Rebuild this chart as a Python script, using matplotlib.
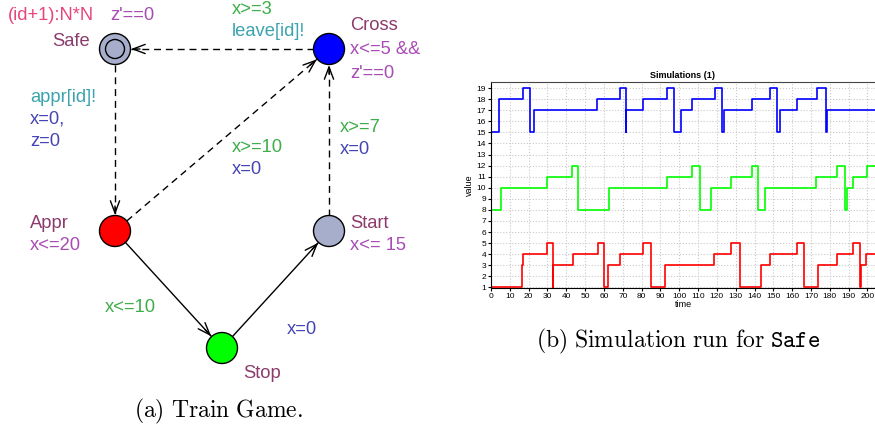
import numpy as np
import matplotlib.pyplot as plt
from matplotlib.patches import Circle, FancyArrowPatch

plt.rcParams['font.family'] = ['Liberation Sans', 'DejaVu Sans']
plt.rcParams['mathtext.fontset'] = 'cm'

## Simulation run (change times, new values)
blue_t = [0, 4.5, 17, 20.5, 23, 56.5, 68.5, 71.5, 71.8, 80.5, 93.5, 97, 101, 107,
          119, 122.5, 124, 138.5, 148, 152, 153.5, 162.5, 173, 178, 178.3]
blue_v = [15, 18, 19, 15, 17, 18, 19, 15, 17, 18, 19, 15, 17, 18,
          19, 15, 17, 18, 19, 15, 17, 18, 19, 15, 17]
green_t = [0, 5.3, 29.5, 43, 46.3, 62.8, 93.7, 107, 111.2, 117, 127.7, 138.8,
           142, 145.4, 172.8, 183.9, 188.2, 189.2, 192.2, 199.8]
green_v = [8, 10, 11, 12, 8, 10, 11, 12, 8, 10, 11, 12,
           8, 10, 11, 12, 8, 10, 11, 12]
red_t = [0, 16.3, 17, 29.5, 32.7, 33.2, 43.3, 56.6, 59.9, 62.4, 68.6, 80.5, 85.2,
         92.5, 118.5, 127.7, 132.3, 143.6, 148, 162.5, 166.2, 173.5, 183.9, 192.2,
         195.8, 196.6, 199.3]
red_v = [1, 3, 4, 5, 1, 3, 4, 5, 1, 3, 4, 5, 1,
         3, 4, 5, 1, 3, 4, 5, 1, 3, 4, 5,
         1, 3, 4]
t_end = 204
x_ticks = list(range(0, 201, 10))
y_ticks = list(range(1, 20))

## Train automaton
node_names = ['Safe', 'Cross', 'Appr', 'Start', 'Stop']
node_colors = ['#a7aecb', '#0000ff', '#ff0000', '#a7aecb', '#00ff00']
# (source, target, dashed)
edges = [('Cross', 'Safe', True), ('Safe', 'Appr', True), ('Appr', 'Cross', True),
         ('Start', 'Cross', True), ('Appr', 'Stop', False), ('Stop', 'Start', False)]

name_col = '#8c3b6c'
inv_col = '#a84cb4'
guard_col = '#3dae48'
sync_col = '#3ba3ae'
assign_col = '#4545b5'

# label text, colour, left x, centre y (pixels)
labels = [
    ('(id+1):N*N', '#e8457e', 8, 15), ("z'==0", inv_col, 110, 15),
    ('Safe', name_col, 52, 42),
    ('x>=3', guard_col, 232, 9), ('leave[id]!', sync_col, 232, 31),
    ('Cross', name_col, 350, 25), ('x<=5 &&', inv_col, 350, 49), ("z'==0", inv_col, 350, 73),
    ('appr[id]!', sync_col, 30, 97), ('x=0,', assign_col, 30, 119), ('z=0', assign_col, 30, 142),
    ('x>=10', guard_col, 232, 148), ('x=0', assign_col, 232, 170),
    ('x>=7', guard_col, 340, 127), ('x=0', assign_col, 340, 149),
    ('Appr', name_col, 30, 223), ('x<=20', inv_col, 30, 245),
    ('Start', name_col, 350, 223), ('x<= 15', inv_col, 350, 245),
    ('x<=10', guard_col, 105, 308), ('x=0', assign_col, 287, 330),
    ('Stop', name_col, 243, 373),
]

node_pos = {'Safe': (115, 49), 'Cross': (329, 49), 'Appr': (115, 231),
            'Start': (329, 231), 'Stop': (222, 348)}
r = 15.5

fig = plt.figure(figsize=(8.75, 4.32), dpi=100)

dg = fig.add_axes([0, 0, 1, 1])
dg.set_xlim(0, 875)
dg.set_ylim(432, 0)
dg.axis('off')

for name, col in zip(node_names, node_colors):
    dg.add_patch(Circle(node_pos[name], r, fc=col, ec='black', lw=1, zorder=3))
dg.add_patch(Circle(node_pos['Safe'], 9.5, fill=False, ec='black', lw=1, zorder=4))

for src, dst, dashed in edges:
    p0 = np.array(node_pos[src], float)
    p1 = np.array(node_pos[dst], float)
    d = (p1 - p0) / np.linalg.norm(p1 - p0)
    a = p0 + r * d
    b = p1 - (r + 0.5) * d
    if dashed:
        dg.plot([a[0], b[0]], [a[1], b[1]], color='black', lw=1, dashes=(5, 3.5))
    else:
        dg.plot([a[0], b[0]], [a[1], b[1]], color='black', lw=1)
    dg.add_patch(FancyArrowPatch(tuple(b - 9 * d), tuple(b),
                                 arrowstyle='->,head_length=0.8,head_width=0.3',
                                 mutation_scale=11, color='black', lw=1,
                                 shrinkA=0, shrinkB=0))

for txt, col, x, y in labels:
    dg.text(x, y, txt, color=col, fontsize=13.2, ha='left', va='center')

fig.text(218 / 875, 1 - 411 / 432, r'$\mathrm{(a)\ Train\ Game.}$',
         ha='center', va='center', fontsize=17)
fig.text(678 / 875, 1 - 341 / 432, r'$\mathrm{(b)\ Simulation\ run\ for\ }\mathtt{Safe}$',
         ha='center', va='center', fontsize=17)

## Simulation plot
ax = fig.add_axes([491 / 875, 1 - 288 / 432, (875 - 491) / 875, (288 - 82) / 432])
for t, v, col in [(blue_t, blue_v, '#0000ff'), (green_t, green_v, '#00ff00'),
                  (red_t, red_v, '#ff0000')]:
    ax.step(t + [t_end], v + [v[-1]], where='post', color=col, lw=1.2)
ax.set_xlim(0, t_end)
ax.set_ylim(0.95, 19.55)
ax.set_xticks(x_ticks)
ax.set_yticks(y_ticks)
ax.tick_params(labelsize=6, length=2, pad=1.5)
ax.grid(True, color='#c8c8c8', ls=':', lw=0.8)
ax.spines['right'].set_visible(False)
ax.spines['top'].set_color('#444444')
ax.set_title('Simulations (1)', fontsize=6.5, fontweight='bold', pad=3)
ax.set_xlabel('time', fontsize=6.5, labelpad=0)
ax.set_ylabel('value', fontsize=6.5, labelpad=2)

fig.savefig('out.png', dpi=100)
